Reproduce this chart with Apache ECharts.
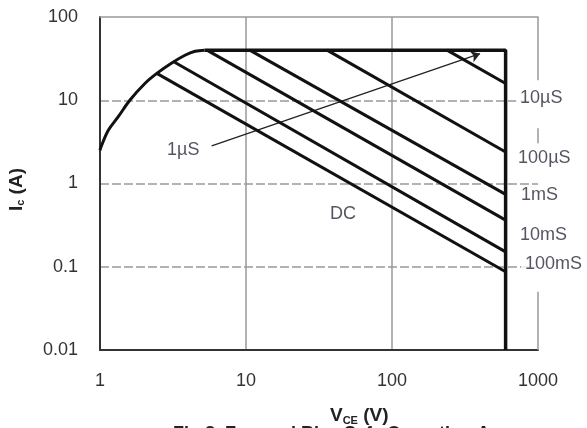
<!DOCTYPE html>
<html>
<head>
<meta charset="utf-8">
<script src="https://cdn.jsdelivr.net/npm/echarts@6/dist/echarts.min.js"></script>
<style>
html,body{margin:0;padding:0;background:#fff;}
#chart{width:587px;height:428px;}
</style>
</head>
<body>
<div id="chart"></div>
<script>
// ---- data ----
var xTicks = [1, 10, 100, 1000];
var yTicks = [0.01, 0.1, 1, 10, 100];

// left thermal/current-limit curve
var curveX = [1, 1.016, 1.14, 1.33, 1.6, 2.03, 2.45, 3.1, 3.82, 4.48, 5.2];
var curveY = [2.5, 2.75, 4.36, 6.3, 10, 15.9, 21, 28, 34.7, 38.7, 40];

// top current limit and voltage limit
var limitX = [5.2, 600, 600];
var limitY = [40, 40, 0.01];

// pulse lines: start point on envelope, end at V = 600
var pulseNames  = ['10µS', '100µS', '1mS', '10mS', '100mS', 'DC'];
var pulseStartX = [238, 35.9, 10.6, 5.4, 3.18, 2.45];
var pulseStartY = [40, 40, 40, 40, 29.2, 21.0];
var pulseEndX   = [600, 600, 600, 600, 600, 600];
var pulseEndY   = [15.9, 2.39, 0.74, 0.363, 0.151, 0.087];

// arrow for 1µS
var arrowFrom = [5.82, 2.83];
var arrowTo   = [401, 36.3];

// annotation labels (anchor at left of label box, vertical centre)
var labelText = ['1µS', '10µS', '100µS', '1mS', '10mS', '100mS', 'DC'];
var labelX    = [2.88, 707, 686, 718, 707, 765, 37.6];
var labelY    = [2.5, 10.6, 2.0, 0.72, 0.24, 0.107, 0.43];
var labelOnRight = [false, true, true, true, true, true, false];

// right border segments (gaps where labels sit)
var borderX = [1000, 1000, 1000, 1000, 1000, 1000, 1000, 1000];
var borderY = [100, 17.4, null, 4.6, 3.05, null, 0.05, 0.01];

// ---- chart ----
var FONT = 'Liberation Sans, Arial, sans-serif';
function zip(a, b) { return a.map(function (v, i) { return [v, b[i]]; }); }
function fmt(v) { return String(parseFloat(Number(v).toPrecision(3))); }

var series = [];
series.push({
  type: 'line', data: zip(curveX, curveY), smooth: 0.35, showSymbol: false, symbol: 'none',
  lineStyle: { color: '#111', width: 3 }, clip: false, z: 5
});
series.push({
  type: 'line', data: zip(limitX, limitY), showSymbol: false, symbol: 'none',
  lineStyle: { color: '#111', width: 3.5 }, clip: false, z: 5
});
pulseNames.forEach(function (n, i) {
  series.push({
    type: 'line', name: n,
    data: [[pulseStartX[i], pulseStartY[i]], [pulseEndX[i], pulseEndY[i]]],
    showSymbol: false, symbol: 'none',
    lineStyle: { color: '#111', width: 3 }, clip: false, z: 5
  });
});
series.push({
  type: 'line', data: zip(borderX, borderY), showSymbol: false, symbol: 'none', connectNulls: false,
  lineStyle: { color: '#999', width: 1.5 }, clip: false, z: 1,
  markLine: {
    silent: true, symbol: ['none', 'arrow'], symbolSize: 9,
    lineStyle: { color: '#222', width: 1.3, type: 'solid' },
    label: { show: false },
    data: [[{ coord: arrowFrom }, { coord: arrowTo }]]
  }
});
series.push({
  type: 'scatter', symbolSize: 0, clip: false, z: 6,
  data: labelText.map(function (t, i) {
    var item = { value: [labelX[i], labelY[i]], name: t };
    if (labelOnRight[i]) item.label = { backgroundColor: '#fff', padding: [1, 1, 1, 4] };
    return item;
  }),
  label: {
    show: true, position: 'right', distance: 0, formatter: '{b}',
    fontFamily: FONT, fontSize: 18, color: '#2a2a3a'
  }
});

var option = {
  animation: false,
  backgroundColor: '#fff',
  grid: { left: 100, right: 49, top: 17, bottom: 78, containLabel: false },
  xAxis: [{
    type: 'log', logBase: 10, min: xTicks[0], max: xTicks[xTicks.length - 1],
    axisLine: { show: true, lineStyle: { color: '#333', width: 2 } },
    axisTick: { show: false },
    axisLabel: { fontFamily: FONT, fontSize: 18, color: '#333', margin: 22, formatter: fmt },
    splitLine: { show: true, showMinLine: false, showMaxLine: false, lineStyle: { color: '#999', width: 1.5 } },
    minorTick: { show: false }, minorSplitLine: { show: false }
  }, {
    type: 'log', logBase: 10, position: 'top', min: xTicks[0], max: xTicks[xTicks.length - 1],
    axisLine: { show: true, lineStyle: { color: '#999', width: 1.5 } },
    axisTick: { show: false }, axisLabel: { show: false }, splitLine: { show: false }
  }],
  yAxis: [{
    type: 'log', logBase: 10, min: yTicks[0], max: yTicks[yTicks.length - 1],
    axisLine: { show: true, lineStyle: { color: '#333', width: 2 } },
    axisTick: { show: false },
    axisLabel: { fontFamily: FONT, fontSize: 18, color: '#333', margin: 22, formatter: fmt },
    splitLine: { show: true, showMinLine: false, showMaxLine: false, lineStyle: { color: '#999', width: 1.5, type: [9, 3] } },
    minorTick: { show: false }, minorSplitLine: { show: false }
  }],
  graphic: [{
    type: 'text', x: 330, y: 425,
    style: {
      text: '{a|V}{b|CE}{a| (V)}', verticalAlign: 'bottom',
      rich: {
        a: { fontFamily: FONT, fontSize: 19, fontWeight: 'bold', fill: '#222', verticalAlign: 'bottom' },
        b: { fontFamily: FONT, fontSize: 11, fontWeight: 'bold', fill: '#222', verticalAlign: 'bottom', padding: [0, 0, -1, 0] }
      }
    }
  }, {
    type: 'text', x: 7, y: 168, rotation: Math.PI / 2,
    style: {
      text: '{a|I}{b|c}{a| (A)}', align: 'right', verticalAlign: 'top',
      rich: {
        a: { fontFamily: FONT, fontSize: 19, fontWeight: 'bold', fill: '#222', verticalAlign: 'bottom' },
        b: { fontFamily: FONT, fontSize: 11, fontWeight: 'bold', fill: '#222', verticalAlign: 'bottom' }
      }
    }
  }, {
    type: 'text', x: 173, y: 425,
    style: { text: 'Fig 8. Forward Bias Safe Operating Area', verticalAlign: 'top', fontFamily: FONT, fontSize: 18, fontWeight: 'bold', fill: '#222' }
  }],
  series: series
};

var chart = echarts.init(document.getElementById('chart'), null, { renderer: 'canvas' });
chart.setOption(option);
</script>
</body>
</html>
